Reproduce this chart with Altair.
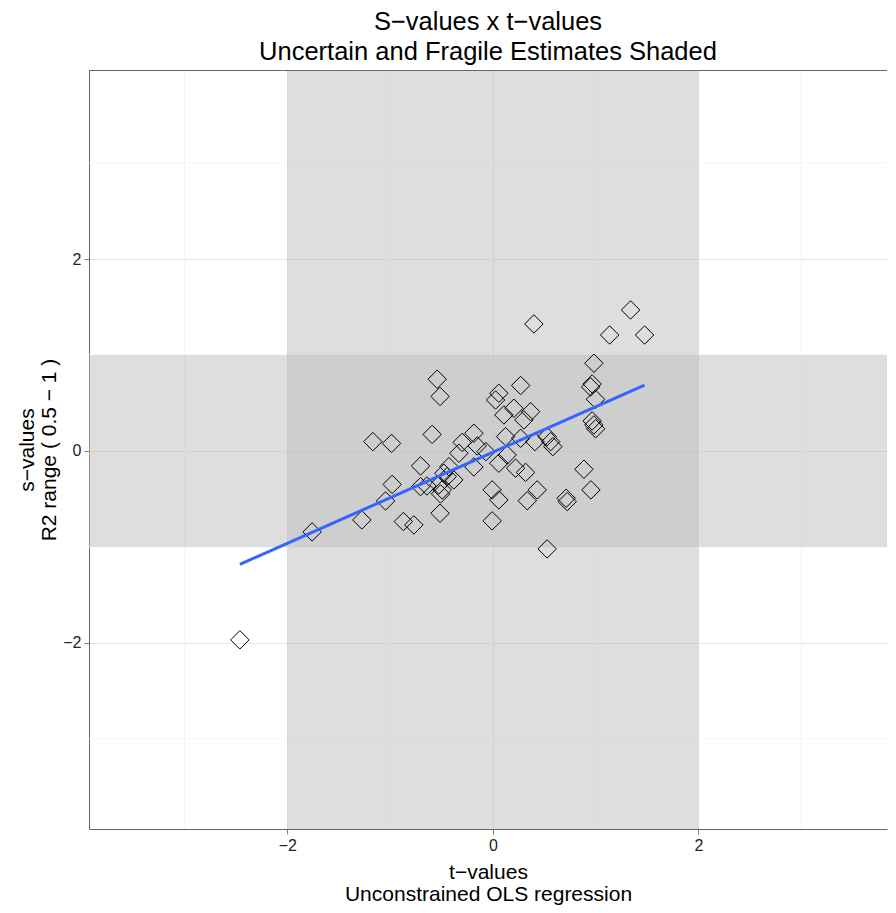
import altair as alt
import pandas as pd

# ---- data ----
t_values = [-2.462, -1.759, -1.275, -1.168, -0.986, -0.980, -1.044, -0.871, -0.769, -0.704,
            -0.704, -0.642, -0.591, -0.542, -0.514, -0.514, -0.526, -0.493, -0.509, -0.477,
            -0.445, -0.380, -0.428, -0.331, -0.299, -0.185, -0.153, -0.068, -0.185, -0.007,
            0.058, -0.007, 0.058, 0.139, 0.124, 0.058, 0.026, 0.107, 0.204, 0.270,
            0.367, 0.302, 0.270, 0.409, 0.221, 0.318, 0.431, 0.334, 0.399, 0.528,
            0.562, 0.584, 0.528, 0.713, 0.723, 0.886, 0.954, 0.983, 0.966, 0.951,
            0.998, 0.966, 0.983, 1.000, 1.340, 1.136, 1.476]
s_values = [-1.969, -0.844, -0.719, 0.097, 0.078, -0.349, -0.521, -0.736, -0.771, -0.156,
            -0.372, -0.365, 0.172, 0.747, 0.568, -0.649, -0.354, -0.406, -0.448, -0.232,
            -0.268, -0.302, -0.164, -0.024, 0.089, 0.184, 0.052, -0.007, -0.167, -0.406,
            -0.510, -0.729, -0.128, -0.042, 0.149, 0.601, 0.531, 0.375, 0.445, 0.682,
            0.409, 0.323, 0.132, 0.097, -0.180, -0.224, -0.406, -0.519, 1.323, 0.149,
            0.097, 0.045, -1.021, -0.493, -0.528, -0.191, -0.406, 0.914, 0.698, 0.667,
            0.539, 0.313, 0.271, 0.231, 1.469, 1.208, 1.208]

major_ticks = [-2, 0, 2]
minor_ticks = [-3, -1, 1, 3]
t_band = [-2, 2]      # uncertain t-value band
s_band = [-1, 1]      # fragile s-value band

x_domain = [-3.93, 3.835]
y_domain = [-3.94, 3.97]

FONT = "Liberation Sans"
BORDER = "#666666"
W, H = 798, 759

df = pd.DataFrame({"t": t_values, "s": s_values})
minor_df = pd.DataFrame({"v": minor_ticks})
tband_df = pd.DataFrame({"lo": [t_band[0]], "hi": [t_band[1]]})
sband_df = pd.DataFrame({"lo": [s_band[0]], "hi": [s_band[1]]})

xscale = alt.Scale(domain=x_domain, nice=False, zero=False)
yscale = alt.Scale(domain=y_domain, nice=False, zero=False)

xaxis = alt.Axis(values=major_ticks, format="d",
                 title=["t−values", "Unconstrained OLS regression"],
                 grid=True, titlePadding=8, domain=True, domainColor=BORDER)
yaxis = alt.Axis(values=major_ticks, format="d",
                 title=["s−values", "R2 range ( 0.5 − 1 )"],
                 grid=True, titlePadding=3, domain=True, domainColor=BORDER)

minor_x = alt.Chart(minor_df).mark_rule(color="#f5f5f5", strokeWidth=1).encode(
    x=alt.X("v:Q", scale=xscale, axis=xaxis))
minor_y = alt.Chart(minor_df).mark_rule(color="#f5f5f5", strokeWidth=1).encode(
    y=alt.Y("v:Q", scale=yscale, axis=yaxis))

vband = alt.Chart(tband_df).mark_rect(color="#bebebe", opacity=0.5).encode(
    x="lo:Q", x2="hi:Q")
hband = alt.Chart(sband_df).mark_rect(color="#bebebe", opacity=0.5).encode(
    y="lo:Q", y2="hi:Q")

points = alt.Chart(df).mark_point(shape="diamond", filled=False, color="black",
                                  size=340, strokeWidth=1, opacity=1).encode(
    x=alt.X("t:Q", scale=xscale, axis=xaxis),
    y=alt.Y("s:Q", scale=yscale, axis=yaxis))

fit = alt.Chart(df).transform_regression("t", "s", method="linear").mark_line(
    color="#3366FF", strokeWidth=3).encode(
    x=alt.X("t:Q", scale=xscale),
    y=alt.Y("s:Q", scale=yscale))

# top edge of the panel frame (right edge is cut off in the reference)
top_border = alt.Chart(minor_df).mark_rule(color=BORDER, strokeWidth=1).encode(
    y=alt.value(0.5), x=alt.value(0), x2=alt.value(W))

chart = alt.layer(minor_x, minor_y, vband, hband, points, fit, top_border).properties(
    width=W, height=H,
    title=alt.Title(["S−values x t−values", "Uncertain and Fragile Estimates Shaded"],
                    font=FONT, fontSize=25.5, fontWeight="normal", color="black",
                    lineHeight=30, anchor="middle", offset=4),
    padding={"left": 8, "top": 2, "right": 0, "bottom": 2},
).configure_view(stroke=None).configure_axis(
    domain=False, tickColor="#7f7f7f", tickSize=5, labelFont=FONT, labelFontSize=16,
    labelColor="#222", labelPadding=3, titleFont=FONT, titleFontSize=21,
    titleFontWeight="normal", titleColor="black", titleLineHeight=22,
    gridColor="#e5e5e5", gridWidth=1)

chart.save("out.html", embed_options={"renderer": "svg", "actions": False})
